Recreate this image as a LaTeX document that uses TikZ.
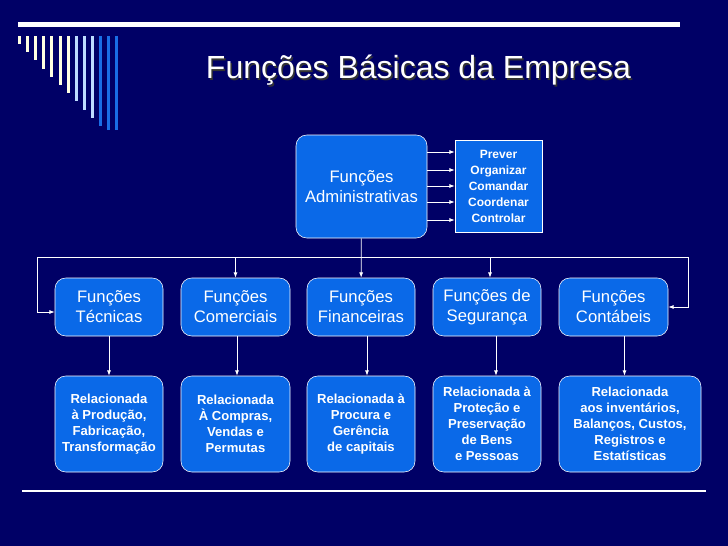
\documentclass[tikz,border=0pt]{standalone}
\usepackage{fontspec}
\setmainfont{Liberation Sans}
\usetikzlibrary{arrows.meta,positioning}
\definecolor{navy}{RGB}{0,0,102}
\definecolor{boxblue}{RGB}{10,105,232}
\definecolor{cream}{RGB}{255,255,225}
\definecolor{paleblue}{RGB}{190,220,255}
\definecolor{barblue}{RGB}{25,110,230}
\tikzset{
  funcbox/.style={draw=white, fill=boxblue, rounded corners=8pt, text=white,
    align=center, inner sep=1pt, font=\fontsize{12.5}{15}\selectfont},
  relbox/.style={funcbox, font=\bfseries\fontsize{9.8}{12}\selectfont},
  arr/.style={draw=white, line width=0.6pt, -{Latex[length=4pt,width=3pt]}}
}
\begin{document}
\begin{tikzpicture}[x=0.75pt,y=-0.75pt]
  \fill[navy] (0,0) rectangle (728,546);
  \useasboundingbox (0,0) rectangle (728,546);
  % top decoration
  \draw[white, line width=4pt] (18,24.5) -- (680,24.5);
  \foreach \i/\c in {0/cream,1/cream,2/cream,3/cream,4/cream,5/cream,6/cream,
                     7/paleblue,8/paleblue,9/paleblue,10/barblue,11/barblue,12/barblue}{
    \pgfmathsetmacro{\bx}{19.5+8.1*\i}
    \pgfmathsetmacro{\by}{min(44+8.2*\i,130)}
    \fill[\c] (\bx-1.5,36) rectangle (\bx+1.5,\by);
  }
  % title
  \node[text=black!80, font=\fontsize{24}{28}\selectfont] at (420,72) {Funções Básicas da Empresa};
  \node[text=white, font=\fontsize{24}{28}\selectfont] (title) at (418.5,70.5) {Funções Básicas da Empresa};

  % administrative functions
  \node[funcbox, minimum width=131*0.75pt, minimum height=103*0.75pt] (adm) at (361.5,186.5)
    {Funções\\Administrativas};
  \node[draw=white, fill=boxblue, text=white, align=center, inner sep=1pt,
    font=\bfseries\fontsize{9}{12}\selectfont,
    minimum width=87*0.75pt, minimum height=92*0.75pt] (tasks) at (498.5,186)
    {Prever\\Organizar\\Comandar\\Coordenar\\Controlar};
  \foreach \y in {152,170,186,202,220}
    \draw[arr] (adm.east |- 0,\y) -- (tasks.west |- 0,\y);

  % second level
  \node[funcbox, minimum width=108*0.75pt, minimum height=58*0.75pt] (tec) at (109,307) {Funções\\Técnicas};
  \node[funcbox, minimum width=109*0.75pt, minimum height=58*0.75pt] (com) at (235.5,307) {Funções\\Comerciais};
  \node[funcbox, minimum width=108*0.75pt, minimum height=58*0.75pt] (fin) at (361,307) {Funções\\Financeiras};
  \node[funcbox, minimum width=108*0.75pt, minimum height=58*0.75pt] (seg) at (487,307) {Funções de\\Segurança};
  \node[funcbox, minimum width=109*0.75pt, minimum height=58*0.75pt] (cont) at (613.5,307) {Funções\\Contábeis};

  % third level
  \node[relbox, minimum width=108*0.75pt, minimum height=96*0.75pt] (rtec) at (109,424)
    {Relacionada\\à Produção,\\Fabricação,\\Transformação};
  \node[relbox, minimum width=109*0.75pt, minimum height=96*0.75pt] (rcom) at (235.5,424)
    {Relacionada\\À Compras,\\Vendas e\\Permutas};
  \node[relbox, minimum width=108*0.75pt, minimum height=96*0.75pt] (rfin) at (361,424)
    {Relacionada à\\Procura e\\Gerência\\de capitais};
  \node[relbox, minimum width=108*0.75pt, minimum height=96*0.75pt] (rseg) at (487,424)
    {Relacionada à\\Proteção e\\Preservação\\de Bens\\e Pessoas};
  \node[relbox, minimum width=142*0.75pt, minimum height=96*0.75pt] (rcont) at (630,424)
    {Relacionada\\aos inventários,\\Balanços, Custos,\\Registros e\\Estatísticas};

  % bus
  \coordinate (busl) at (37,257);
  \coordinate (busr) at (688,257);
  \draw[white, line width=0.6pt] (busl) -- (busr);
  \draw[arr] (adm) -- (fin);
  \draw[arr] (com.north |- busl) -- (com);
  \draw[arr] ([xshift=3*0.75pt]seg.north |- busl) -- ([xshift=3*0.75pt]seg.north);
  \draw[arr] (busl) |- ([yshift=-5*0.75pt]tec.west);
  \draw[arr] (busr) |- (cont.east);

  % down arrows
  \draw[arr] (tec) -- (rtec);
  \draw[arr] ([xshift=1.5*0.75pt]com.south) -- ([xshift=1.5*0.75pt]com.south |- rcom.north);
  \draw[arr] ([xshift=6*0.75pt]fin.south) -- ([xshift=6*0.75pt]fin.south |- rfin.north);
  \draw[arr] ([xshift=9*0.75pt]seg.south) -- ([xshift=9*0.75pt]seg.south |- rseg.north);
  \draw[arr] ([xshift=11*0.75pt]cont.south) -- ([xshift=11*0.75pt]cont.south |- rcont.north);

  % bottom rule
  \draw[white, line width=0.8pt] (22,491) -- (706,491);
\end{tikzpicture}
\end{document}
